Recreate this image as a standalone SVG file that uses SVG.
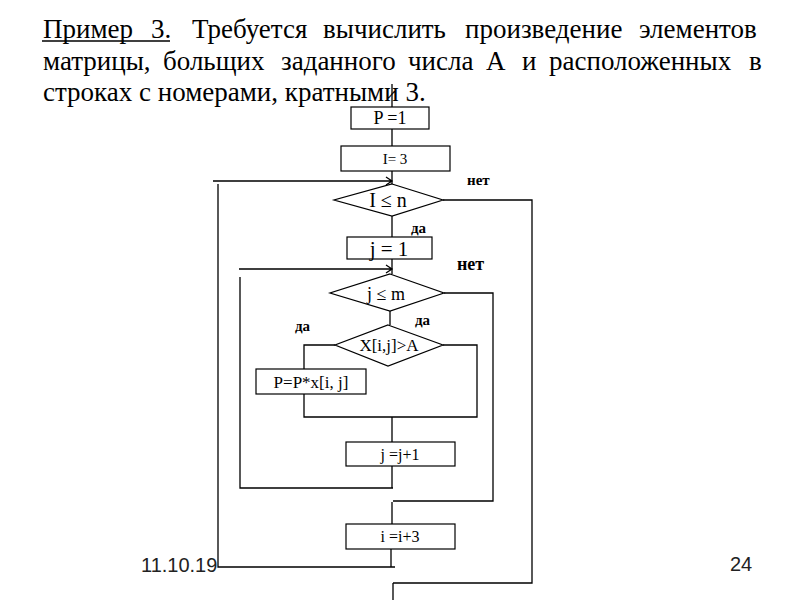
<svg xmlns="http://www.w3.org/2000/svg" width="800" height="600" viewBox="0 0 800 600">
<style>
.t{font-family:"Liberation Serif","DejaVu Serif",serif;font-size:27px;fill:#000}
.n{fill:#fff;stroke:#000;stroke-width:1.2}
.c{fill:none;stroke:#000;stroke-width:1.3}
.bx{font-family:"Liberation Serif","DejaVu Serif",serif;fill:#000;text-anchor:middle}
.lb{font-family:"Liberation Serif","DejaVu Serif",serif;font-weight:bold;fill:#000}
.f{font-family:"Liberation Sans",Arial,sans-serif;font-size:20px;fill:#222}
</style>
<rect width="800" height="600" fill="#fff"/>
<g id="title">
<text class="t" y="38"><tspan x="43">Пример</tspan><tspan x="151">3.</tspan><tspan x="192">Требуется</tspan><tspan x="323">вычислить</tspan><tspan x="465">произведение</tspan><tspan x="639">элементов</tspan></text>
<line x1="42" y1="41" x2="170" y2="41" stroke="#000" stroke-width="1.5"/>
<text class="t" y="70"><tspan x="43">матрицы,</tspan><tspan x="163">больщих</tspan><tspan x="281">заданного</tspan><tspan x="408">числа</tspan><tspan x="486">А</tspan><tspan x="522">и</tspan><tspan x="549">расположенных</tspan><tspan x="749">в</tspan></text>
<text class="t" x="43" y="101">строках с номерами, кратными 3.</text>
</g>
<g id="connectors">
<path class="c" d="M392 84V107M392 129V146M392 171V184M392 216V237M392 259V274M390 311V325M392 417V442M392 466V488M392 502V524M391 549V567M393 583V600"/>
<path class="c" d="M213 181H392M386 177L392 181L386 185"/>
<path class="c" d="M218 184V567H395"/>
<path class="c" d="M239 269H392M386 265L392 269L386 273"/>
<path class="c" d="M240 277V488H393"/>
<path class="c" d="M443 200H532V583H393"/>
<path class="c" d="M444 293H493V501H393"/>
<path class="c" d="M335 345H304V369M304 394V417H477V345H443"/>
</g>
<g id="n_p1"><rect class="n" x="351" y="107" width="78" height="22"/><text class="bx" x="390" y="124" font-size="18">P =1</text></g>
<g id="n_i3"><rect class="n" x="341" y="146" width="109" height="25"/><text class="bx" x="395" y="164" font-size="15" fill="#333">I= 3</text></g>
<g id="n_cond_i"><polygon class="n" points="392,184 443,200 392,216 334,200"/><text class="bx" x="388" y="207" font-size="20">I ≤ n</text></g>
<g id="n_j1"><rect class="n" x="347" y="237" width="85" height="22"/><text class="bx" x="389" y="256" font-size="21">j = 1</text></g>
<g id="n_cond_j"><polygon class="n" points="390,274 444,293 390,311 330,293"/><text class="bx" x="386" y="300" font-size="18">j ≤ m</text></g>
<g id="n_cond_x"><polygon class="n" points="388,325 443,345 388,366 335,345"/><text class="bx" x="389" y="351" font-size="17">X[i,j]&gt;A</text></g>
<g id="n_pp"><rect class="n" x="256" y="369" width="110" height="25"/><text class="bx" x="311" y="388" font-size="17">P=P*x[i, j]</text></g>
<g id="n_jinc"><rect class="n" x="346" y="442" width="109" height="24"/><text class="bx" x="400" y="460" font-size="16">j =j+1</text></g>
<g id="n_iinc"><rect class="n" x="346" y="524" width="109" height="25"/><text class="bx" x="400" y="542" font-size="16">i =i+3</text></g>
<g id="labels">
<text class="lb" x="467" y="185" font-size="15">нет</text>
<text class="lb" x="411" y="233" font-size="15">да</text>
<text class="lb" x="457" y="270" font-size="18">нет</text>
<text class="lb" x="415" y="325" font-size="15">да</text>
<text class="lb" x="295" y="331" font-size="15">да</text>
</g>
<g id="footer">
<text class="f" x="141" y="572">11.10.19</text>
<text class="f" x="730" y="571">24</text>
</g>
</svg>
